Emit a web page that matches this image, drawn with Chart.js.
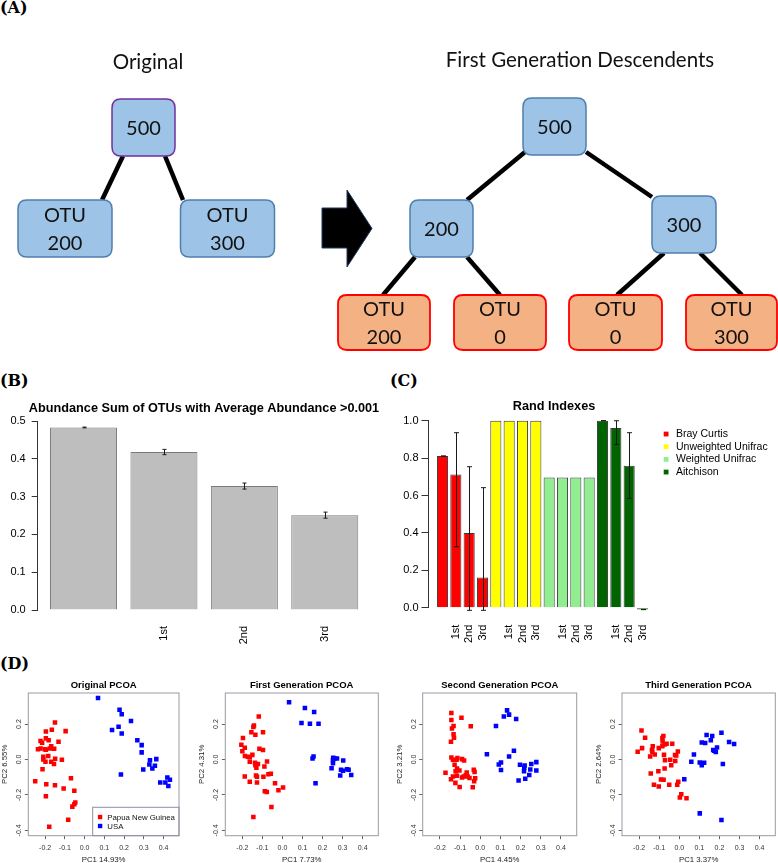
<!DOCTYPE html>
<html><head><meta charset="utf-8">
<script src="https://cdn.jsdelivr.net/npm/chart.js@4.4.1/dist/chart.umd.min.js"></script>
<style>
html,body{margin:0;padding:0;background:#fff;width:778px;height:863px;overflow:hidden;position:relative;}
canvas{position:absolute;}
.plabel{position:absolute;font-family:"DejaVu Serif","Liberation Serif",serif;font-weight:bold;font-size:16px;line-height:16px;color:#000;}
</style></head><body>
<div class="plabel" style="left:0px;top:0px">(A)</div>
<div class="plabel" style="left:0px;top:373px">(B)</div>
<div class="plabel" style="left:390px;top:373px">(C)</div>
<div class="plabel" style="left:0px;top:656px">(D)</div>
<script>
// ================= DATA =================
// Panel A: tree node values
const originalRoot = [500];
const originalLeaves = [200, 300];
const firstGenRoot = [500];
const firstGenInner = [200, 300];
const firstGenLeaves = [200, 0, 0, 300];
const treeTitles = ["Original", "First Generation Descendents"];

// Panel B
const bTitle = "Abundance Sum of OTUs with Average Abundance >0.001";
const bCategories = ["", "1st", "2nd", "3rd"];
const bValues = [0.483, 0.418, 0.328, 0.251];
const bErrors = [0.001, 0.007, 0.008, 0.008];
const bYTicks = [0, 0.1, 0.2, 0.3, 0.4, 0.5];

// Panel C
const cTitle = "Rand Indexes";
const cCategories = ["", "1st", "2nd", "3rd"];
const cMetrics = ["Bray Curtis", "Unweighted Unifrac", "Weighted Unifrac", "Aitchison"];
const cBray = [0.811, 0.713, 0.399, 0.162];
const cBrayLow = [0.811, 0.326, -0.014, -0.014];
const cBrayHigh = [0.811, 0.936, 0.754, 0.642];
const cUnweighted = [1.0, 1.0, 1.0, 1.0];
const cWeighted = [0.697, 0.697, 0.697, 0.697];
const cAitchison = [1.0, 0.961, 0.759, -0.01];
const cAitchisonLow = [1.0, 0.873, 0.585, -0.01];
const cAitchisonHigh = [1.0, 1.0, 0.936, -0.01];
const cYTicks = [0, 0.2, 0.4, 0.6, 0.8, 1.0];

// Panel D
const dTitles = ["Original PCOA", "First Generation PCOA", "Second Generation PCOA", "Third Generation PCOA"];
const dXLabels = ["PC1 14.93%", "PC1 7.73%", "PC1 4.45%", "PC1 3.37%"];
const dYLabels = ["PC2 6.55%", "PC2 4.31%", "PC2 3.21%", "PC2 2.64%"];
const dGroups = ["Papua New Guinea", "USA"];
const dXTicks = [-0.2, -0.1, 0.0, 0.1, 0.2, 0.3, 0.4];
const dYTicks = [-0.4, -0.2, 0.0, 0.2];

const pngOriginal = [[-0.150,0.208],[-0.196,0.158],[-0.166,0.168],[-0.096,0.160],[-0.196,0.119],[-0.223,0.104],[-0.215,0.094],[-0.182,0.108],[-0.132,0.100],[-0.236,0.058],[-0.223,0.062],[-0.201,0.058],[-0.196,0.055],[-0.169,0.075],[-0.176,0.062],[-0.154,0.060],[-0.209,0.015],[-0.209,0.000],[-0.198,-0.013],[-0.184,0.019],[-0.169,-0.013],[-0.155,-0.026],[-0.149,0.004],[-0.115,-0.002],[-0.213,-0.055],[-0.250,-0.123],[-0.194,-0.140],[-0.150,-0.145],[-0.069,-0.106],[-0.106,-0.164],[-0.052,-0.177],[-0.196,-0.208],[-0.047,-0.243],[-0.052,-0.253],[-0.062,-0.266],[-0.083,-0.340],[-0.179,-0.379]];
const usaOriginal = [[0.068,0.347],[0.177,0.281],[0.188,0.255],[0.235,0.217],[0.172,0.185],[0.139,0.166],[0.188,0.147],[0.267,0.109],[0.289,0.081],[0.289,0.040],[0.331,-0.004],[0.363,0.002],[0.328,-0.028],[0.356,-0.036],[0.343,-0.051],[0.297,-0.057],[0.184,-0.085],[0.383,-0.130],[0.409,-0.130],[0.419,-0.102],[0.432,-0.115],[0.424,-0.149]];
const pngFirst = [[-0.118,0.242],[-0.142,0.192],[-0.145,0.183],[-0.155,0.153],[-0.097,0.153],[-0.135,0.140],[-0.197,0.121],[-0.205,0.083],[-0.188,0.066],[-0.200,0.047],[-0.115,0.060],[-0.097,0.053],[-0.150,0.026],[-0.187,0.019],[-0.172,0.015],[-0.163,0.013],[-0.163,-0.013],[-0.137,-0.019],[-0.122,-0.025],[-0.135,-0.032],[-0.130,-0.047],[-0.077,-0.011],[-0.090,-0.040],[-0.132,-0.091],[-0.127,-0.098],[-0.188,-0.096],[-0.095,-0.098],[-0.070,-0.083],[-0.058,-0.081],[-0.163,-0.126],[-0.127,-0.130],[-0.037,-0.134],[-0.088,-0.179],[-0.078,-0.183],[-0.020,-0.174],[0.003,-0.158],[-0.055,-0.268],[-0.145,-0.325]];
const usaFirst = [[0.033,0.323],[0.112,0.291],[0.158,0.268],[0.095,0.206],[0.137,0.202],[0.180,0.202],[0.155,0.017],[0.150,0.006],[0.253,0.009],[0.252,-0.004],[0.260,0.006],[0.272,0.006],[0.252,-0.021],[0.303,-0.006],[0.245,-0.049],[0.292,-0.058],[0.302,-0.064],[0.322,-0.055],[0.330,-0.058],[0.343,-0.087],[0.288,-0.091],[0.165,-0.134]];
const pngSecond = [[-0.143,0.262],[-0.143,0.223],[-0.093,0.236],[-0.132,0.189],[-0.140,0.175],[-0.047,0.187],[-0.132,0.142],[-0.130,0.123],[-0.145,0.100],[-0.143,0.011],[-0.135,-0.002],[-0.117,-0.002],[-0.113,0.008],[-0.090,0.002],[-0.080,-0.006],[-0.127,-0.030],[-0.115,-0.051],[-0.103,-0.062],[-0.122,-0.066],[-0.172,-0.075],[-0.032,-0.058],[-0.028,-0.070],[-0.067,-0.074],[-0.072,-0.089],[-0.062,-0.096],[-0.090,-0.102],[-0.082,-0.096],[-0.115,-0.092],[-0.135,-0.096],[-0.145,-0.111],[-0.053,-0.104],[-0.025,-0.106],[-0.030,-0.123],[-0.123,-0.132],[-0.102,-0.155],[-0.037,-0.157]];
const usaSecond = [[0.133,0.277],[0.117,0.242],[0.143,0.253],[0.178,0.228],[0.078,0.189],[0.033,0.030],[0.167,0.049],[0.143,0.017],[0.092,-0.028],[0.103,-0.017],[0.103,-0.060],[0.197,-0.030],[0.220,-0.034],[0.218,-0.047],[0.217,-0.066],[0.253,-0.026],[0.278,-0.015],[0.248,-0.057],[0.278,-0.062],[0.243,-0.087],[0.223,-0.109],[0.190,-0.119]];
const pngThird = [[-0.188,0.164],[-0.170,0.123],[-0.207,0.043],[-0.185,0.064],[-0.132,0.075],[-0.136,0.053],[-0.134,0.042],[-0.122,0.028],[-0.145,0.017],[-0.079,0.132],[-0.084,0.121],[-0.083,0.102],[-0.073,0.085],[-0.063,0.089],[-0.035,0.089],[-0.102,0.064],[-0.084,0.074],[-0.076,0.026],[-0.007,0.045],[-0.021,0.025],[-0.015,0.023],[-0.071,-0.004],[-0.045,-0.002],[-0.020,-0.009],[-0.040,-0.032],[-0.073,-0.051],[-0.104,-0.066],[-0.142,-0.079],[-0.091,-0.113],[-0.078,-0.115],[-0.005,-0.126],[-0.010,-0.143],[-0.126,-0.143],[-0.102,-0.153],[-0.050,-0.143],[0.010,-0.196],[0.003,-0.215],[0.036,-0.219]];
const usaThird = [[0.136,0.138],[0.164,0.132],[0.210,0.151],[0.112,0.096],[0.129,0.093],[0.157,0.108],[0.248,0.098],[0.273,0.087],[0.188,0.068],[0.169,0.053],[0.174,0.049],[0.182,0.042],[0.073,0.028],[0.060,-0.013],[0.102,-0.017],[0.124,-0.019],[0.112,-0.032],[0.217,-0.025],[0.025,-0.111],[0.102,-0.304],[0.210,-0.342]];

// ================= STYLE / LAYOUT =================
const SANS = '"Liberation Sans", Arial, Helvetica, sans-serif';
Chart.defaults.font.family = SANS;
Chart.defaults.color = '#000';
Chart.defaults.animation = false;
Chart.defaults.plugins.legend.display = false;
Chart.defaults.plugins.tooltip.enabled = false;

function makeCanvas(left, top, width, height) {
  const c = document.createElement('canvas');
  c.width = width; c.height = height;
  c.style.left = left + 'px'; c.style.top = top + 'px';
  c.style.width = width + 'px'; c.style.height = height + 'px';
  document.body.appendChild(c);
  return c;
}
function fixTicks(values) {
  return function (scale) { scale.ticks = values.map(v => ({ value: v })); };
}
// an empty right-hand axis that only reserves space (so the title stays centred on the full width)
function spacerAxis(w) {
  return {
    type: 'linear', position: 'right', display: true, min: 0, max: 1,
    grid: { display: false }, border: { display: false }, ticks: { display: false },
    afterFit: s => { s.width = w; }
  };
}

// ---------- Panel A ----------
const treeLayout = {
  titles: [{ x: 148, y: 62 }, { x: 580, y: 60 }],
  origRoot: { cx: 143.5, cy: 127.5, w: 63, h: 57 },
  origLeaves: [{ cx: 65, cy: 228.5, w: 94, h: 57 }, { cx: 227.5, cy: 228.5, w: 94, h: 57 }],
  origEdges: [[123, 156, 102, 200], [165, 156, 183, 200]],
  fgRoot: { cx: 554.5, cy: 126.5, w: 63, h: 57 },
  fgInner: [{ cx: 441.5, cy: 228.5, w: 63, h: 57 }, { cx: 684, cy: 224.5, w: 64, h: 57 }],
  fgLeaves: [{ cx: 384, cy: 322.5, w: 92, h: 55 }, { cx: 500, cy: 322.5, w: 92, h: 55 }, { cx: 615.5, cy: 322.5, w: 93, h: 55 }, { cx: 731.5, cy: 322.5, w: 91, h: 55 }],
  fgEdges: [[525, 152, 467, 200], [586, 152, 652, 197], [415, 257, 383, 295], [467, 257, 500, 295], [664, 253, 617, 295], [700, 253, 742, 295]],
  arrow: [[322, 208], [347, 208], [347, 190], [372, 228.5], [347, 267], [347, 248], [322, 248]]
};
const blueNode = { fill: '#9DC3E6', stroke: '#4F7FAE' };
const orangeNode = { fill: '#F4B183', stroke: '#FF0000' };

const treeNodes = [];
treeNodes.push(Object.assign({ lines: [String(originalRoot[0])], fill: blueNode.fill, stroke: '#7030A0' }, treeLayout.origRoot));
originalLeaves.forEach((v, i) => treeNodes.push(Object.assign({ lines: ['OTU', String(v)], fill: blueNode.fill, stroke: blueNode.stroke }, treeLayout.origLeaves[i])));
treeNodes.push(Object.assign({ lines: [String(firstGenRoot[0])], fill: blueNode.fill, stroke: blueNode.stroke }, treeLayout.fgRoot));
firstGenInner.forEach((v, i) => treeNodes.push(Object.assign({ lines: [String(v)], fill: blueNode.fill, stroke: blueNode.stroke }, treeLayout.fgInner[i])));
firstGenLeaves.forEach((v, i) => treeNodes.push(Object.assign({ lines: ['OTU', String(v)], fill: orangeNode.fill, stroke: orangeNode.stroke, lw: 1.8 }, treeLayout.fgLeaves[i])));

const edgeDatasets = treeLayout.origEdges.concat(treeLayout.fgEdges).map(e => ({
  type: 'line', data: [{ x: e[0], y: e[1] }, { x: e[2], y: e[3] }],
  borderColor: '#000', borderWidth: 4.5, pointRadius: 0, showLine: true, borderCapStyle: 'butt'
}));

function roundRect(ctx, x, y, w, h, r) {
  ctx.beginPath();
  ctx.moveTo(x + r, y); ctx.lineTo(x + w - r, y); ctx.quadraticCurveTo(x + w, y, x + w, y + r);
  ctx.lineTo(x + w, y + h - r); ctx.quadraticCurveTo(x + w, y + h, x + w - r, y + h);
  ctx.lineTo(x + r, y + h); ctx.quadraticCurveTo(x, y + h, x, y + h - r);
  ctx.lineTo(x, y + r); ctx.quadraticCurveTo(x, y, x + r, y); ctx.closePath();
}

const treePlugin = {
  id: 'tree',
  afterDatasetsDraw(chart) {
    const ctx = chart.ctx, sx = chart.scales.x, sy = chart.scales.y;
    const X = v => sx.getPixelForValue(v), Y = v => sy.getPixelForValue(v);
    ctx.save();
    ctx.beginPath();
    treeLayout.arrow.forEach((p, i) => { if (i === 0) ctx.moveTo(X(p[0]), Y(p[1])); else ctx.lineTo(X(p[0]), Y(p[1])); });
    ctx.closePath();
    ctx.fillStyle = '#000'; ctx.fill();
    ctx.strokeStyle = '#1F3A5F'; ctx.lineWidth = 1; ctx.stroke();
    ctx.font = '20.5px Lato, "Open Sans", sans-serif';
    ctx.fillStyle = '#111'; ctx.textAlign = 'center'; ctx.textBaseline = 'middle';
    treeTitles.forEach((t, i) => ctx.fillText(t, X(treeLayout.titles[i].x), Y(treeLayout.titles[i].y)));
    treeNodes.forEach(n => {
      const x0 = X(n.cx - n.w / 2), y0 = Y(n.cy - n.h / 2);
      const w = X(n.cx + n.w / 2) - x0, h = Y(n.cy + n.h / 2) - y0;
      roundRect(ctx, x0, y0, w, h, 9);
      ctx.fillStyle = n.fill; ctx.fill();
      ctx.strokeStyle = n.stroke; ctx.lineWidth = n.lw || 1.5; ctx.stroke();
      ctx.fillStyle = '#111';
      ctx.font = '20px Lato, "Open Sans", sans-serif';
      const cy = Y(n.cy);
      if (n.lines.length === 1) ctx.fillText(n.lines[0], X(n.cx), cy + 1);
      else { ctx.fillText(n.lines[0], X(n.cx), cy - 13); ctx.fillText(n.lines[1], X(n.cx), cy + 15); }
    });
    ctx.restore();
  }
};

new Chart(makeCanvas(0, 0, 778, 360), {
  type: 'scatter',
  data: { datasets: edgeDatasets },
  options: {
    responsive: false, layout: { padding: 0 },
    scales: {
      x: { type: 'linear', min: 0, max: 778, display: false },
      y: { type: 'linear', min: 0, max: 360, reverse: true, display: false }
    }
  },
  plugins: [treePlugin]
});

// ---------- Error bars plugin (B, C) ----------
const errorBarPlugin = {
  id: 'errorBars',
  afterDatasetsDraw(chart) {
    const ctx = chart.ctx, ys = chart.scales.y;
    chart.data.datasets.forEach((ds, di) => {
      if (!ds.errLow) return;
      const meta = chart.getDatasetMeta(di);
      ctx.save(); ctx.strokeStyle = '#1a1a1a'; ctx.lineWidth = 1;
      meta.data.forEach((bar, i) => {
        const lo = ys.getPixelForValue(ds.errLow[i]), hi = ys.getPixelForValue(ds.errHigh[i]);
        const x = Math.round(bar.x) + 0.5, cap = ds.errCap;
        ctx.beginPath();
        ctx.moveTo(x, lo); ctx.lineTo(x, hi);
        ctx.moveTo(x - cap, lo); ctx.lineTo(x + cap, lo);
        ctx.moveTo(x - cap, hi); ctx.lineTo(x + cap, hi);
        ctx.stroke();
      });
      ctx.restore();
    });
  }
};

// ---------- Panel B ----------
const bPos = bCategories.map((c, i) => 0.7 + 1.2 * i);
new Chart(makeCanvas(0, 395, 408, 260), {
  type: 'bar',
  data: {
    datasets: [{
      data: bValues.map((v, i) => ({ x: bPos[i], y: v })),
      backgroundColor: '#BEBEBE', borderColor: '#7a7a7a', borderWidth: 1,
      barPercentage: 1 / 1.2, categoryPercentage: 1,
      errLow: bValues.map((v, i) => v - bErrors[i]), errHigh: bValues.map((v, i) => v + bErrors[i]), errCap: 2
    }]
  },
  options: {
    responsive: false,
    layout: { padding: 0 },
    plugins: {
      title: { display: true, text: bTitle, font: { size: 12.7, weight: 'bold' }, padding: { top: 5.4, bottom: 5.4 }, color: '#000' }
    },
    scales: {
      x: {
        type: 'linear', min: 0.016, max: 4.984, offset: false,
        afterBuildTicks: fixTicks(bPos),
        afterFit: s => { s.height = 45; },
        grid: { display: false, offset: false }, border: { display: false },
        ticks: { autoSkip: false, minRotation: 90, maxRotation: 90, padding: 8, font: { size: 11 }, callback: (v, i) => bCategories[i] }
      },
      y: {
        min: 0, max: 0.5,
        afterBuildTicks: fixTicks(bYTicks),
        afterFit: s => { s.width = 37.7; },
        grid: { drawOnChartArea: false, tickLength: 6, color: '#333' },
        border: { display: true, color: '#333' },
        ticks: { padding: 6, font: { size: 11 }, callback: v => v.toFixed(1) }
      },
      spacer: spacerAxis(37.4)
    }
  },
  plugins: [errorBarPlugin]
});

// ---------- Panel C ----------
const cColors = ['#FF0000', '#FFFF00', '#90EE90', '#006400'];
const cSeries = [cBray, cUnweighted, cWeighted, cAitchison];
const cLows = [cBrayLow, null, null, cAitchisonLow];
const cHighs = [cBrayHigh, null, null, cAitchisonHigh];
const cPos = [];
const cTickLabels = [];
cMetrics.forEach((m, g) => cCategories.forEach((c, j) => { cPos.push(0.7 + 1.2 * (g * 4 + j)); cTickLabels.push(c); }));

const cLegendPlugin = {
  id: 'cLegend',
  afterDraw(chart) {
    const ctx = chart.ctx, a = chart.chartArea;
    ctx.save();
    ctx.font = '10.5px ' + SANS; ctx.textBaseline = 'middle'; ctx.textAlign = 'left';
    chart.data.datasets.forEach((ds, i) => {
      const y = a.top + 13.3 + i * 12.67;
      ctx.fillStyle = ds.backgroundColor;
      ctx.fillRect(a.right + 7.2, y - 2.4, 4.8, 4.8);
      ctx.fillStyle = '#000';
      ctx.fillText(ds.label, a.right + 19.5, y);
    });
    ctx.restore();
  }
};

new Chart(makeCanvas(330, 395, 448, 260), {
  type: 'bar',
  data: {
    datasets: cMetrics.map((m, g) => {
      const ds = {
        label: m,
        data: cSeries[g].map((v, j) => ({ x: cPos[g * 4 + j], y: v })),
        backgroundColor: cColors[g], borderColor: '#3a3a3a', borderWidth: 1,
        barPercentage: 1 / 1.2, categoryPercentage: 1, grouped: false, clip: false
      };
      if (cLows[g]) { ds.errLow = cLows[g]; ds.errHigh = cHighs[g]; ds.errCap = 2.5; }
      return ds;
    })
  },
  options: {
    responsive: false,
    layout: { padding: 0 },
    plugins: {
      title: { display: true, text: cTitle, font: { size: 12.7, weight: 'bold' }, padding: { top: 3.4, bottom: 7.1 }, color: '#000' }
    },
    scales: {
      x: {
        type: 'linear', min: -0.56, max: 19.96, offset: false,
        afterBuildTicks: fixTicks(cPos),
        afterFit: s => { s.height = 47.3; },
        grid: { display: false, offset: false }, border: { display: false },
        ticks: { autoSkip: false, minRotation: 90, maxRotation: 90, padding: 9, font: { size: 11 }, callback: (v, i) => cTickLabels[i] }
      },
      y: {
        min: 0, max: 1,
        afterBuildTicks: fixTicks(cYTicks),
        afterFit: s => { s.width = 98.5; },
        grid: { drawOnChartArea: false, tickLength: 7, color: '#333' },
        border: { display: true, color: '#333' },
        ticks: { padding: 3, font: { size: 11 }, callback: v => v.toFixed(1) }
      },
      spacer: spacerAxis(121.5)
    }
  },
  plugins: [errorBarPlugin, cLegendPlugin]
});

// ---------- Panel D ----------
const dBoxes = [[28.3, 179], [225.3, 378.3], [422.7, 576.7], [622, 775.3]];
const dRed = [pngOriginal, pngFirst, pngSecond, pngThird];
const dBlue = [usaOriginal, usaFirst, usaSecond, usaThird];

const boxPlugin = {
  id: 'pcoaBox',
  afterDraw(chart) {
    const ctx = chart.ctx, a = chart.chartArea, ys = chart.scales.y;
    ctx.save();
    ctx.strokeStyle = '#9a9aa6'; ctx.lineWidth = 1;
    ctx.strokeRect(a.left, a.top, a.right - a.left, a.bottom - a.top);
    ctx.fillStyle = '#333'; ctx.font = '7px ' + SANS;
    ctx.textAlign = 'center'; ctx.textBaseline = 'middle';
    ys.ticks.forEach(t => {
      ctx.save();
      ctx.translate(a.left - 9, ys.getPixelForValue(t.value));
      ctx.rotate(-Math.PI / 2);
      ctx.fillText(t.value.toFixed(1), 0, 0);
      ctx.restore();
    });
    if (chart.options.plugins.pcoaBox && chart.options.plugins.pcoaBox.legend) {
      const lx = a.right - 86.3, ly = a.bottom - 28.4;
      ctx.strokeStyle = '#8f8fa0';
      ctx.strokeRect(lx, ly, a.right - lx, a.bottom - ly);
      ctx.font = '7.8px ' + SANS; ctx.textAlign = 'left';
      chart.data.datasets.forEach((ds, i) => {
        const y = ly + 9.7 + i * 9;
        ctx.fillStyle = ds.backgroundColor;
        ctx.fillRect(lx + 5.2, y - 2.2, 4.4, 4.4);
        ctx.fillStyle = '#111';
        ctx.fillText(ds.label, lx + 14.6, y + 0.5);
      });
    }
    ctx.restore();
  }
};

dBoxes.forEach((b, k) => {
  const boxW = b[1] - b[0];
  const cLeft = Math.round(b[0] - 30);
  const padL = (b[0] - 30) - cLeft;
  const cw = Math.round(boxW + 60 + padL);
  const rightW = cw - padL - 30 - boxW;
  new Chart(makeCanvas(cLeft, 674, cw, 196), {
    type: 'scatter',
    data: {
      datasets: [
        { label: dGroups[0], data: dRed[k].map(p => ({ x: p[0], y: p[1] })), backgroundColor: '#FF0000', borderWidth: 0, pointStyle: 'rect', pointRadius: 3.2 },
        { label: dGroups[1], data: dBlue[k].map(p => ({ x: p[0], y: p[1] })), backgroundColor: '#0000FF', borderWidth: 0, pointStyle: 'rect', pointRadius: 3.2 }
      ]
    },
    options: {
      responsive: false,
      layout: { padding: { left: padL, right: 0, top: 0, bottom: 0 } },
      plugins: {
        title: { display: true, text: dTitles[k], font: { size: 9.5, weight: 'bold' }, padding: { top: 5.3, bottom: 2.3 }, color: '#000' },
        pcoaBox: { legend: k === 0 }
      },
      scales: {
        x: {
          type: 'linear', min: -0.285, max: 0.478,
          afterBuildTicks: fixTicks(dXTicks),
          afterFit: s => { s.height = 34.3; },
          grid: { drawOnChartArea: false, tickLength: 3.5, color: '#666' },
          border: { display: false },
          ticks: { padding: 4.9, font: { size: 7 }, color: '#333', callback: v => v.toFixed(1) },
          title: { display: true, text: dXLabels[k], font: { size: 7.8 }, padding: { top: 0, bottom: 5.3 }, color: '#222' }
        },
        y: {
          type: 'linear', min: -0.43, max: 0.375,
          afterBuildTicks: fixTicks(dYTicks),
          afterFit: s => { s.width = 30; },
          grid: { drawOnChartArea: false, tickLength: 3.5, color: '#666' },
          border: { display: false },
          ticks: { display: false },
          title: { display: true, text: dYLabels[k], font: { size: 7.8 }, padding: { top: 2.3, bottom: 0 }, color: '#222' }
        },
        spacer: spacerAxis(rightW)
      }
    },
    plugins: [boxPlugin]
  });
});
</script>
</body></html>
